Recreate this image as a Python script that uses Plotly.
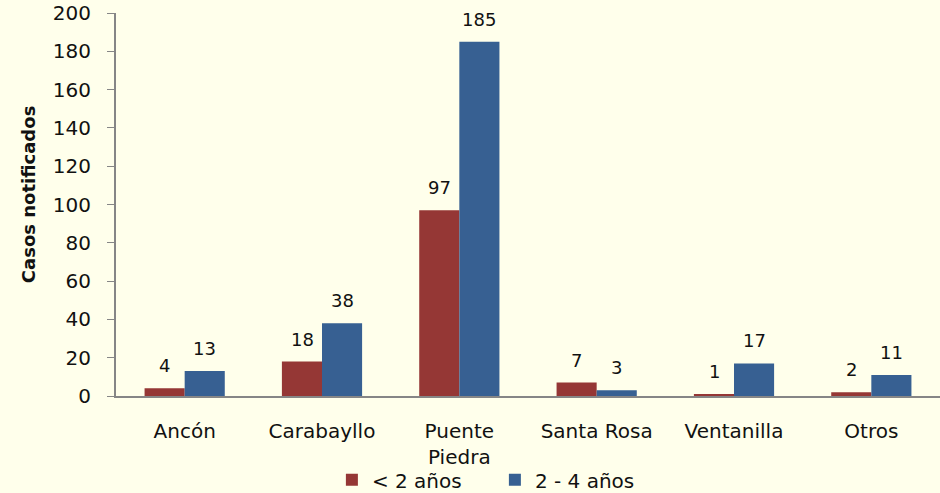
import plotly.graph_objects as go

categories = ["Ancón", "Carabayllo", "Puente<br>Piedra", "Santa Rosa", "Ventanilla", "Otros"]
menor_2 = [4, 18, 97, 7, 1, 2]
de_2_a_4 = [13, 38, 185, 3, 17, 11]
y_ticks = [0, 20, 40, 60, 80, 100, 120, 140, 160, 180, 200]
y_title = "Casos notificados"

red = "#953735"
blue = "#376092"
bg = "#FFFFEB"
font_family = "DejaVu Sans"

fig = go.Figure()
fig.add_trace(go.Bar(x=categories, y=menor_2, name="< 2 años", marker_color=red,
                     marker_line_width=0))
fig.add_trace(go.Bar(x=categories, y=de_2_a_4, name="2 - 4 años", marker_color=blue,
                     marker_line_width=0))

ann = []
for c, v in zip(categories, menor_2):
    ann.append(dict(x=c, y=v, text=str(v), xshift=-20, yshift=10, yanchor="bottom",
                    showarrow=False, font=dict(family=font_family, size=18, color="#111")))
for c, v in zip(categories, de_2_a_4):
    ann.append(dict(x=c, y=v, text=str(v), xshift=20, yshift=10, yanchor="bottom",
                    showarrow=False, font=dict(family=font_family, size=18, color="#111")))
ann.append(dict(x=-0.1068, y=0.527, xref="paper", yref="paper", text="<b>" + y_title + "</b>",
                textangle=-90, showarrow=False, xanchor="center", yanchor="middle",
                font=dict(family=font_family, size=18, color="#111")))

fig.update_layout(
    width=940, height=493,
    margin=dict(l=116, r=0, t=13, b=97, autoexpand=False),
    paper_bgcolor=bg, plot_bgcolor=bg,
    barmode="group", bargap=0.416, bargroupgap=0,
    annotations=ann,
    font=dict(family=font_family, color="#111"),
    legend=dict(orientation="h", x=0.262, xanchor="left", y=-0.168, yanchor="top",
                font=dict(size=20, family=font_family), bgcolor="rgba(0,0,0,0)",
                entrywidth=118, entrywidthmode="pixels", itemwidth=30, tracegroupgap=0),
    showlegend=True,
    xaxis=dict(showline=True, linecolor="#868686", linewidth=2, ticks="",
               tickfont=dict(size=20, family=font_family), showgrid=False,
               ticklabelstandoff=16, automargin=False),
    yaxis=dict(range=[0, 200], tickvals=y_ticks, showline=True, linecolor="#868686",
               linewidth=2, ticks="outside", ticklen=7, tickcolor="#868686",
               tickfont=dict(size=20, family=font_family), showgrid=False,
               zeroline=False, ticklabelstandoff=12, automargin=False),
)

fig.write_html("out.html", config={"displayModeBar": False},
               post_script="document.body.style.margin='0';document.body.style.background='#FFFFEB';")
